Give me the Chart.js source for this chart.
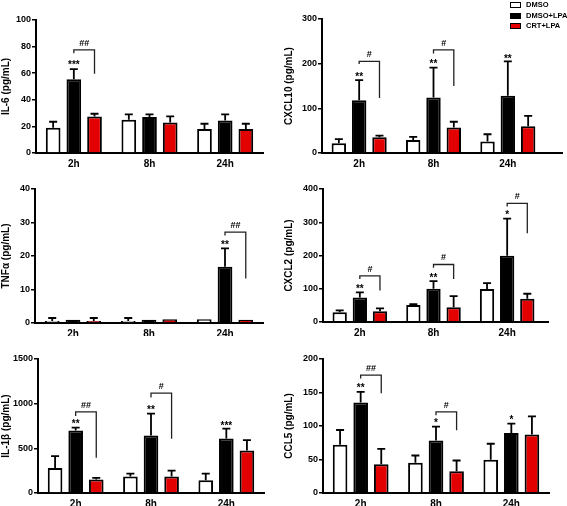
<!DOCTYPE html>
<html>
<head>
<meta charset="utf-8">
<script src="https://cdn.jsdelivr.net/npm/chart.js@4.4.0/dist/chart.umd.min.js"></script>
<style>
  body { margin: 0; background: #fff; width: 567px; height: 506px; position: relative; overflow: hidden; font-family: "Liberation Sans", Arial, sans-serif; }
  canvas { position: absolute; }
  .legend { position: absolute; left: 510px; top: 0; font-weight: bold; font-size: 7.5px; color: #000; }
  .legend div { height: 10.5px; line-height: 10.5px; white-space: nowrap; }
  .legend span { display: inline-block; width: 9px; height: 4px; border: 1px solid #000; margin-right: 5px; vertical-align: middle; }
</style>
</head>
<body>
<canvas id="c1"></canvas>
<canvas id="c2"></canvas>
<canvas id="c3"></canvas>
<canvas id="c4"></canvas>
<canvas id="c5"></canvas>
<canvas id="c6"></canvas>
<div class="legend" id="legend"></div>
<script>
const categories = ['2h', '8h', '24h'];
const seriesNames = ['DMSO', 'DMSO+LPA', 'CRT+LPA'];
const seriesColors = ['#ffffff', '#000000', '#e30000'];

// star rows: [category, series, value, text]
// bracket rows: [category, top, left leg end, right leg end, text]

// IL-6
const il6Means = [[19, 25, 18], [55.5, 27, 24.5], [27.5, 23, 18]];
const il6Errs = [[4.5, 4, 4], [7.5, 2, 4.5], [2, 4.5, 4]];
const il6Ticks = [0, 20, 40, 60, 80, 100];
const il6Stars = [[0, 1, 67.5, '***']];
const il6Brackets = [[0, 77.5, 75, 59.5, '##']];

// CXCL10
const cxcl10Means = [[22, 29, 26], [118, 124, 128], [35, 57, 60]];
const cxcl10Errs = [[9, 7, 16], [45, 67, 77], [4, 13, 23]];
const cxcl10Ticks = [0, 100, 200, 300];
const cxcl10Stars = [[0, 1, 175, '**'], [1, 1, 203, '**'], [2, 1, 214, '**']];
const cxcl10Brackets = [[0, 205, 199, 123, '#'], [1, 231, 223, 150, '#']];

// TNFa
const tnfMeans = [[0.6, 0.6, 1.1], [1.0, 1.0, 16.8], [0.6, 1.1, 1.0]];
const tnfErrs = [[0.9, 0.9, 0], [0, 0, 5.5], [0.9, 0, 0]];
const tnfTicks = [0, 10, 20, 30, 40];
const tnfStars = [[2, 1, 24, '**']];
const tnfBrackets = [[2, 27.1, 26.1, 13.3, '##']];

// CXCL2
const cxcl2Means = [[29, 51, 99], [74, 100, 199], [32, 44, 70]];
const cxcl2Errs = [[6, 3, 18], [15, 23, 112], [9, 34, 15]];
const cxcl2Ticks = [0, 100, 200, 300, 400];
const cxcl2Stars = [[0, 1, 105, '**'], [1, 1, 139, '**'], [2, 1, 329, '*']];
const cxcl2Brackets = [[0, 139, 129, 95, '#'], [1, 173, 163, 129, '#'], [2, 357, 347, 267, '#']];

// IL-1b
const il1bMeans = [[281, 184, 142], [701, 645, 611], [150, 184, 476]];
const il1bErrs = [[131, 33, 75], [30, 244, 109], [19, 67, 116]];
const il1bTicks = [0, 500, 1000, 1500];
const il1bStars = [[0, 1, 795, '**'], [1, 1, 956, '**'], [2, 1, 769, '***']];
const il1bBrackets = [[0, 907, 862, 394, '##'], [1, 1117, 1069, 607, '#']];

// CCL5
const ccl5Means = [[72, 45, 49.5], [135, 78.5, 89.5], [43, 32.5, 87.5]];
const ccl5Errs = [[22, 11, 24], [16, 20.5, 14], [23, 16, 27]];
const ccl5Ticks = [0, 50, 100, 150, 200];
const ccl5Stars = [[0, 1, 159, '**'], [1, 1, 107.5, '*'], [2, 1, 112.5, '*']];
const ccl5Brackets = [[0, 176, 171, 149, '##'], [1, 121, 116, 93.5, '#']];

const panels = [
  { id: 'c1', title: 'IL-6 (pg/mL)', means: il6Means, errs: il6Errs, ticks: il6Ticks, stars: il6Stars, brackets: il6Brackets,
    box: { left: 0, top: 0, w: 283, h: 170, yw: 36, padTop: 20, xh: 17, padRight: 20, extend: 0 } },
  { id: 'c2', title: 'CXCL10 (pg/mL)', means: cxcl10Means, errs: cxcl10Errs, ticks: cxcl10Ticks, stars: cxcl10Stars, brackets: cxcl10Brackets,
    box: { left: 283, top: 0, w: 284, h: 170, yw: 39, padTop: 19, xh: 17, padRight: 22, extend: 18 } },
  { id: 'c3', title: 'TNF\u03b1 (pg/mL)', means: tnfMeans, errs: tnfErrs, ticks: tnfTicks, stars: tnfStars, brackets: tnfBrackets,
    box: { left: 0, top: 170, w: 283, h: 166, yw: 35, padTop: 19, xh: 13, padRight: 20, extend: 0 } },
  { id: 'c4', title: 'CXCL2 (pg/mL)', means: cxcl2Means, errs: cxcl2Errs, ticks: cxcl2Ticks, stars: cxcl2Stars, brackets: cxcl2Brackets,
    box: { left: 283, top: 170, w: 284, h: 166, yw: 40, padTop: 19, xh: 14, padRight: 23, extend: 5 } },
  { id: 'c5', title: 'IL-1\u03b2 (pg/mL)', means: il1bMeans, errs: il1bErrs, ticks: il1bTicks, stars: il1bStars, brackets: il1bBrackets,
    box: { left: 0, top: 336, w: 283, h: 170, yw: 38, padTop: 23, xh: 13, padRight: 19, extend: 0 } },
  { id: 'c6', title: 'CCL5 (pg/mL)', means: ccl5Means, errs: ccl5Errs, ticks: ccl5Ticks, stars: ccl5Stars, brackets: ccl5Brackets,
    box: { left: 283, top: 336, w: 284, h: 170, yw: 40, padTop: 23, xh: 13, padRight: 18, extend: 0 } }
];

// Error bars, stars and brackets drawn from the data values
function makeMarks(p) {
  return {
    id: 'marks',
    afterDatasetsDraw(chart) {
      const ctx = chart.ctx;
      const y = chart.scales.y;
      ctx.save();
      ctx.strokeStyle = '#000';
      ctx.lineWidth = 1.8;
      p.errs.forEach((errs, di) => {
        const meta = chart.getDatasetMeta(di);
        errs.forEach((e, i) => {
          if (!e) return;
          const bar = meta.data[i];
          const top = y.getPixelForValue(p.means[di][i] + e);
          ctx.beginPath();
          ctx.moveTo(bar.x, bar.y);
          ctx.lineTo(bar.x, top);
          ctx.moveTo(bar.x - 4, top);
          ctx.lineTo(bar.x + 4, top);
          ctx.stroke();
        });
      });

      ctx.fillStyle = '#000';
      ctx.textAlign = 'center';
      ctx.textBaseline = 'alphabetic';
      ctx.font = 'bold 10px "Liberation Sans", Arial, sans-serif';
      p.stars.forEach(s => {
        const bar = chart.getDatasetMeta(s[1]).data[s[0]];
        ctx.fillText(s[3], bar.x, y.getPixelForValue(s[2]) + 5);
      });

      ctx.lineWidth = 1.3;
      ctx.strokeStyle = '#222';
      ctx.font = 'bold 9px "Liberation Sans", Arial, sans-serif';
      p.brackets.forEach(b => {
        const x1 = chart.getDatasetMeta(1).data[b[0]].x;
        const x2 = chart.getDatasetMeta(2).data[b[0]].x;
        const top = y.getPixelForValue(b[1]);
        ctx.beginPath();
        ctx.moveTo(x1, y.getPixelForValue(b[2]));
        ctx.lineTo(x1, top);
        ctx.lineTo(x2, top);
        ctx.lineTo(x2, y.getPixelForValue(b[3]));
        ctx.stroke();
        ctx.fillText(b[4], (x1 + x2) / 2, top - 4);
      });

      // x axis runs a bit past the last group in some panels
      if (p.box.extend) {
        const a = chart.chartArea;
        const ay = Math.round(chart.scales.x.top);
        ctx.strokeStyle = '#000';
        ctx.lineWidth = 2;
        ctx.beginPath();
        ctx.moveTo(a.left, ay);
        ctx.lineTo(a.right + p.box.extend, ay);
        ctx.stroke();
      }
      ctx.restore();
    }
  };
}

panels.forEach(p => {
  const canvas = document.getElementById(p.id);
  canvas.width = p.box.w;
  canvas.height = p.box.h;
  canvas.style.left = p.box.left + 'px';
  canvas.style.top = p.box.top + 'px';

  const datasets = seriesNames.map((name, i) => ({
    label: name,
    data: p.means[i],
    backgroundColor: seriesColors[i],
    borderColor: '#000',
    borderWidth: 2,
    categoryPercentage: 0.82,
    barPercentage: 0.71
  }));

  new Chart(canvas, {
    type: 'bar',
    data: { labels: categories, datasets: datasets },
    options: {
      responsive: false,
      animation: false,
      layout: { padding: { top: p.box.padTop, right: p.box.padRight, left: 0, bottom: 0 } },
      plugins: { legend: { display: false }, tooltip: { enabled: false } },
      scales: {
        x: {
          offset: true,
          grid: { display: false, drawTicks: false },
          border: { display: true, color: '#000', width: 2 },
          ticks: { color: '#000', padding: 5, font: { family: '"Liberation Sans", Arial', size: 10, weight: 'bold' } },
          afterFit: s => { s.height = p.box.xh; }
        },
        y: {
          min: p.ticks[0],
          max: p.ticks[p.ticks.length - 1],
          afterBuildTicks: s => { s.ticks = p.ticks.map(v => ({ value: v })); },
          grid: { drawOnChartArea: false, drawTicks: true, tickLength: 4, color: '#000', lineWidth: 1.5 },
          border: { display: true, color: '#000', width: 2 },
          ticks: { color: '#000', padding: 1, callback: v => String(v), font: { family: '"Liberation Sans", Arial', size: 9, weight: 'bold' } },
          title: { display: true, text: p.title, color: '#000', padding: 0, font: { family: '"Liberation Sans", Arial', size: 10, weight: 'bold' } },
          afterFit: s => { s.width = p.box.yw; }
        }
      }
    },
    plugins: [makeMarks(p)]
  });
});

// Legend
const legend = document.getElementById('legend');
seriesNames.forEach((name, i) => {
  const row = document.createElement('div');
  const sw = document.createElement('span');
  sw.style.background = seriesColors[i];
  row.appendChild(sw);
  row.appendChild(document.createTextNode(name));
  legend.appendChild(row);
});
</script>
</body>
</html>
